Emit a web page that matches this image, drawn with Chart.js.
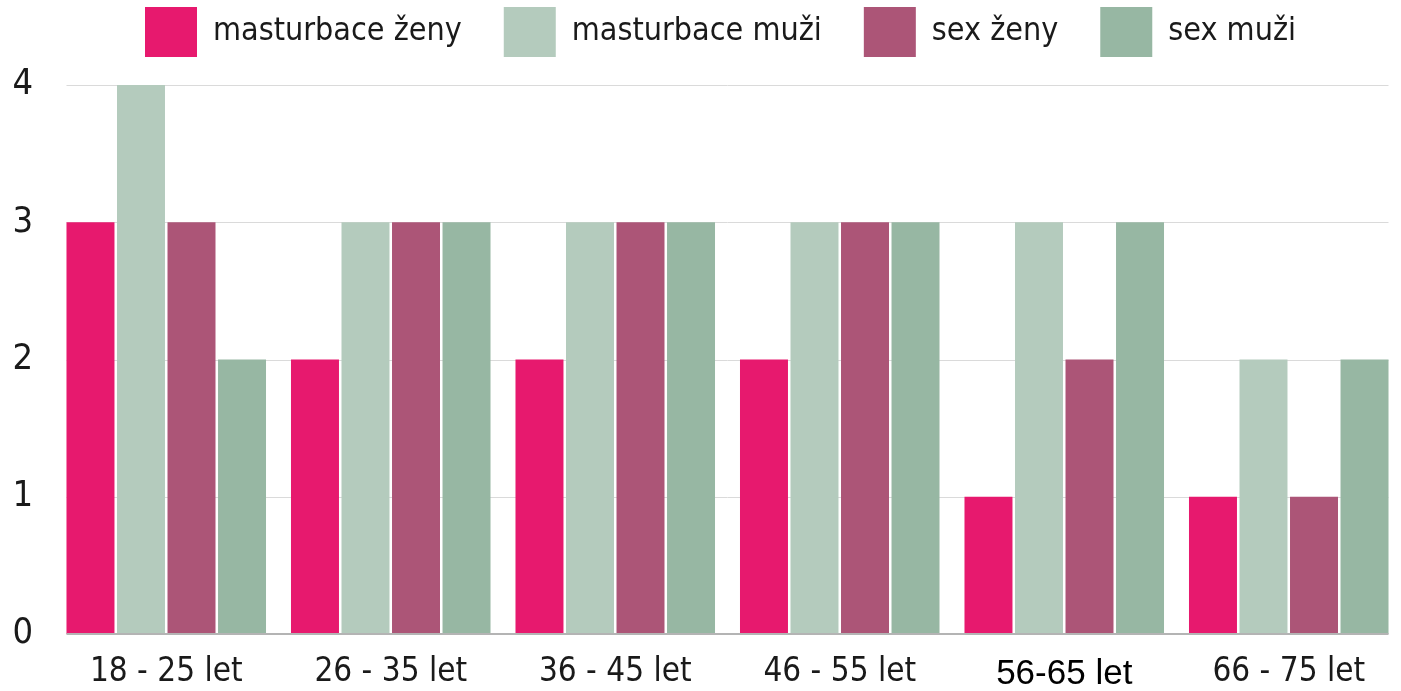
<!DOCTYPE html>
<html>
<head>
<meta charset="utf-8">
<script src="https://cdn.jsdelivr.net/npm/chart.js@4"></script>
<style>
  html, body { margin: 0; padding: 0; background: #fff; }
  #wrap { position: relative; width: 1401px; height: 691px; }
</style>
</head>
<body>
<div id="wrap"><canvas id="chart"></canvas></div>
<script>
const categories = ["18 - 25 let", "26 - 35 let", "36 - 45 let", "46 - 55 let", "56-65 let", "66 - 75 let"];
const masturbaceZeny = [3, 2, 2, 2, 1, 1];
const masturbaceMuzi = [4, 3, 3, 3, 3, 2];
const sexZeny = [3, 3, 3, 3, 2, 1];
const sexMuzi = [2, 3, 3, 3, 3, 2];

const FONT = "'Liberation Sans Narrow', 'DejaVu Sans Condensed', sans-serif";
Chart.defaults.color = "#1a1a1a";
Chart.defaults.font.family = FONT;

// grid lines only across the bars, like the original
const gridLines = {
  id: "gridLines",
  beforeDatasetsDraw(chart) {
    drawLines(chart, false);
  },
  afterDatasetsDraw(chart) {
    drawLines(chart, true);
  },
};

function drawLines(chart, baseline) {
  const ctx = chart.ctx;
  const y = chart.scales.y;
  const first = chart.getDatasetMeta(0).data[0];
  const lastMeta = chart.getDatasetMeta(chart.data.datasets.length - 1);
  const last = lastMeta.data[lastMeta.data.length - 1];
  const left = first.x - first.width / 2;
  const right = last.x + last.width / 2;
  ctx.save();
  y.ticks.forEach((t) => {
    if ((t.value === 0) !== baseline) return;
    const py = Math.round(y.getPixelForValue(t.value)) + (baseline ? 0 : 0.5);
    ctx.strokeStyle = baseline ? "#b4b4b4" : "#dadada";
    ctx.lineWidth = baseline ? 2 : 1;
    ctx.beginPath();
    ctx.moveTo(left, py);
    ctx.lineTo(right, py);
    ctx.stroke();
  });
  ctx.restore();
}

// legend: same padding for spacing, taller box so chart starts lower, moved a bit right
const legendFit = {
  id: "legendFit",
  beforeInit(chart) {
    const fit = chart.legend.fit;
    chart.legend.fit = function () {
      fit.call(this);
      this.height += 18;
    };
  },
  afterLayout(chart) {
    chart.legend.left += 20;
    chart.legend.right += 20;
  },
};

new Chart(document.getElementById("chart"), {
  type: "bar",
  data: {
    labels: categories,
    datasets: [
      { label: "masturbace ženy", data: masturbaceZeny, backgroundColor: "#e7196e" },
      { label: "masturbace muži", data: masturbaceMuzi, backgroundColor: "#b4cbbd" },
      { label: "sex ženy", data: sexZeny, backgroundColor: "#ac5577" },
      { label: "sex muži", data: sexMuzi, backgroundColor: "#97b7a3" },
    ],
  },
  options: {
    responsive: true,
    maintainAspectRatio: false,
    animation: false,
    layout: { padding: { top: -35, left: 0, right: 0, bottom: -23 } },
    datasets: {
      bar: { categoryPercentage: 0.9, barPercentage: 0.95 },
    },
    plugins: {
      tooltip: { enabled: false },
      legend: {
        position: "top",
        labels: {
          boxWidth: 52,
          boxHeight: 50,
          padding: 42,
          font: { size: 32 },
          color: "#1a1a1a",
        },
      },
    },
    scales: {
      x: {
        grid: { display: false, drawTicks: false },
        border: { display: false },
        ticks: {
          padding: 19,
          font: (c) =>
            c.index === 4
              ? { family: "'Liberation Sans', Arial, sans-serif", size: 35 }
              : { size: 33 },
          color: (c) => (c.index === 4 ? "#000" : "#1a1a1a"),
        },
      },
      y: {
        min: 0,
        max: 4,
        afterFit(scale) {
          scale.width = 54;
        },
        grid: { display: false, drawTicks: false },
        border: { display: false },
        ticks: { stepSize: 1, padding: 21, font: { size: 36 } },
      },
    },
  },
  plugins: [gridLines, legendFit],
});
</script>
</body>
</html>
